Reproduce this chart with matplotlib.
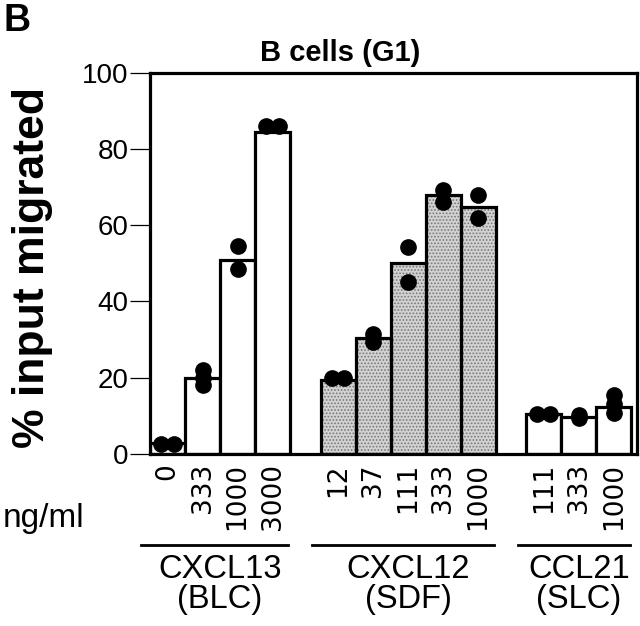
import numpy as np
import matplotlib.pyplot as plt
from matplotlib.transforms import blended_transform_factory

# chemokines, doses (ng/ml), mean % migrated and the single replicates
group_names = ['CXCL13', 'CXCL12', 'CCL21']
group_alias = ['(BLC)', '(SDF)', '(SLC)']
doses = [['0', '333', '1000', '3000'],
         ['12', '37', '111', '333', '1000'],
         ['111', '333', '1000']]
means = [[3, 20, 51, 84.5],
         [19.3, 30.3, 50.2, 67.9, 64.9],
         [10.5, 9.6, 12.3]]
reps = [[[2.5, 2.5], [22, 20, 18], [54.5, 48.5], [86, 86]],
        [[20, 20], [31.5, 29.5], [54.4, 45.2], [69.3, 66.2], [67.9, 61.8]],
        [[10.5, 10.5], [10.3, 9.5], [15.5, 13, 10.7]]]
shaded = [False, True, False]

plt.rcParams['hatch.linewidth'] = 0.8
fig = plt.figure(figsize=(6.4, 6.26), dpi=100)
ax = fig.add_axes([150/640, 1-454/626, 487/640, (454-72.7)/626])

gap = 0.87
start = 0.0
centers, labels = [], []
spans = []
for g in range(len(group_names)):
    n = len(doses[g])
    x = start + 0.5 + np.arange(n)
    if shaded[g]:
        ax.bar(x, means[g], width=1.0, color='#d2d2d2', hatch='.....',
               edgecolor='#777777', linewidth=0, zorder=1)
        ax.bar(x, means[g], width=1.0, facecolor='none',
               edgecolor='black', linewidth=2.3, zorder=2)
    else:
        ax.bar(x, means[g], width=1.0, color='white',
               edgecolor='black', linewidth=2.3, zorder=2)
    for xi, vals in zip(x, reps[g]):
        vals = np.array(vals)
        if np.ptp(vals) < 0.5:
            offs = np.linspace(-0.18, 0.18, len(vals))
        else:
            offs = np.zeros(len(vals))
        ax.plot(xi + offs, vals, 'o', color='black', markersize=11,
                zorder=3, clip_on=False)
    centers.extend(x)
    labels.extend(doses[g])
    spans.append((start, start + n))
    start += n + gap

ax.set_xlim(0, 13.9)
ax.set_ylim(0, 100)
ax.set_xticks(centers)
ax.set_xticklabels(labels, rotation=90, fontsize=19, family='DejaVu Sans')
ax.tick_params(axis='x', length=0, pad=6.5)
ax.set_yticks([0, 20, 40, 60, 80, 100])
ax.tick_params(axis='y', length=14.4, width=0.9, pad=1, labelsize=20)
for lab in ax.get_yticklabels():
    lab.set_family('Liberation Sans')
for s in ax.spines.values():
    s.set_linewidth(2.3)

tr = blended_transform_factory(ax.transData, fig.transFigure)
for g, (a, b) in enumerate(spans):
    ax.plot([a - 0.25, b - 0.05], [1-545/626]*2, color='black', lw=2,
            transform=tr, clip_on=False)
    mid = (a + b) / 2
    fig.text(mid, 1-578/626, group_names[g], transform=tr, ha='center',
             va='baseline', fontsize=23.5, family='Liberation Sans')
    fig.text(mid, 1-608/626, group_alias[g], transform=tr, ha='center',
             va='baseline', fontsize=23.5, family='Liberation Sans')

fig.text(44/640, 1-527/626, 'ng/ml', ha='center', va='baseline',
         fontsize=24, family='Liberation Sans')
fig.text(33/640, 1-268/626, '% input migrated', rotation=90, ha='center',
         va='center', fontsize=32, fontweight='bold', family='Liberation Sans')
fig.text(340/640, 1-61/626, 'B cells (G1)', ha='center', va='baseline',
         fontsize=21, fontweight='bold', family='Liberation Sans')
fig.text(3/640, 1-3/626, 'B', ha='left', va='top', fontsize=27,
         fontweight='bold', family='Liberation Sans')

plt.savefig('out.png', dpi=100)
